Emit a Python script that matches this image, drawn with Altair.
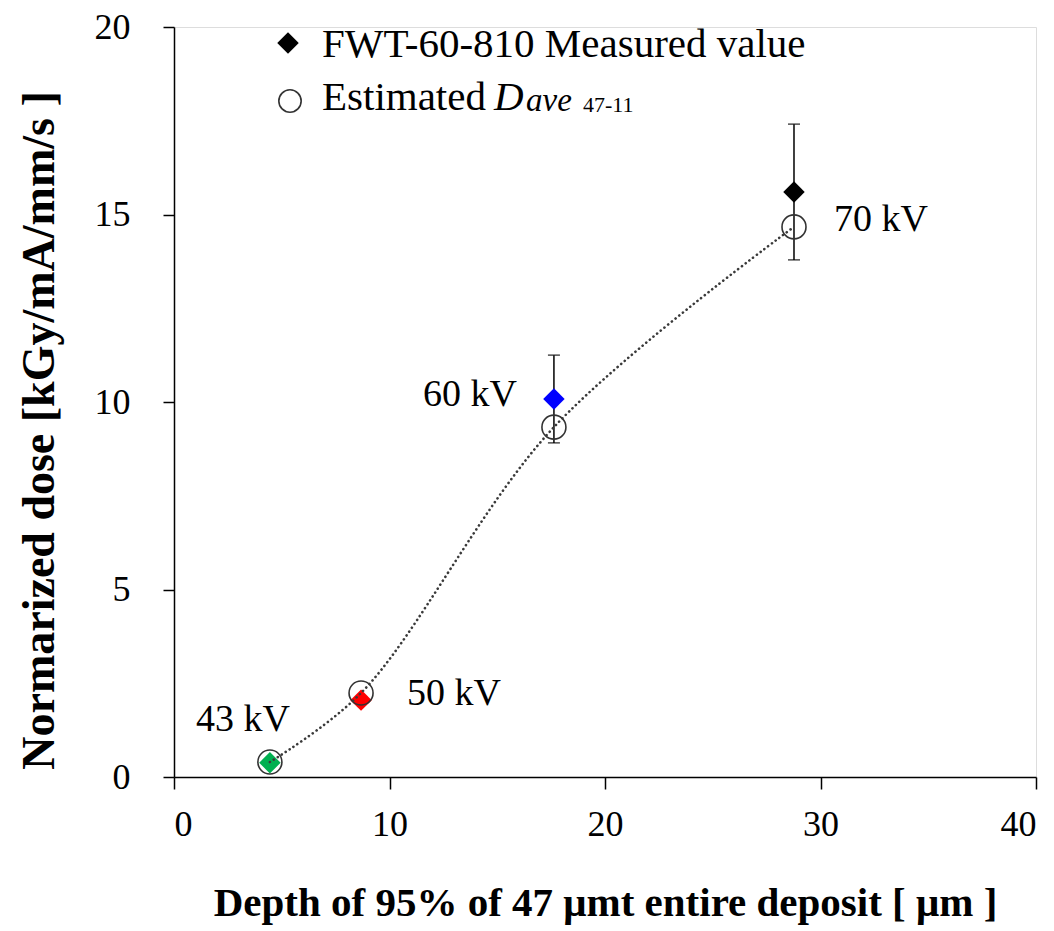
import altair as alt
import pandas as pd

# Tube voltage settings and their measured / estimated normalized doses
kv_labels = ["43 kV", "50 kV", "60 kV", "70 kV"]
depth_um = [4.45, 8.68, 17.63, 28.77]
estimated_dose = [0.40, 2.24, 9.33, 14.67]
measured_dose = [0.38, 2.05, 10.08, 15.60]
measured_err = [0.0, 0.0, 1.17, 1.81]
point_colors = ["#00B050", "#FF0000", "#0000FF", "#000000"]

x_ticks = [0, 10, 20, 30, 40]
y_ticks = [0, 5, 10, 15, 20]

df = pd.DataFrame({
    "kv": kv_labels,
    "depth": depth_um,
    "est": estimated_dose,
    "meas": measured_dose,
    "err": measured_err,
    "color": point_colors,
})
df["lo"] = df["meas"] - df["err"]
df["hi"] = df["meas"] + df["err"]

SERIF = "Liberation Serif"

x_enc = alt.X(
    "depth:Q",
    scale=alt.Scale(domain=[0, 40], nice=False, zero=False),
    axis=alt.Axis(
        values=x_ticks,
        title="Depth of 95% of 47 μmt entire deposit [ μm ]",
        titleFont=SERIF, titleFontSize=41, titleFontWeight="bold", titleColor="#000",
        titleBaseline="alphabetic", titleY=138,
        labelFont=SERIF, labelFontSize=36, labelColor="#000", labelPadding=18,
        tickSize=12, tickColor="#000", tickWidth=1.5,
        domainColor="#000", domainWidth=1.5, grid=False,
    ),
)
y_scale = alt.Scale(domain=[0, 20], nice=False, zero=False)
y_axis = alt.Axis(
    values=y_ticks,
    title="Normarized dose [kGy/mA/mm/s ]",
    titleFont=SERIF, titleFontSize=46, titleFontWeight="bold", titleColor="#000",
    titleBaseline="alphabetic", titleX=-121, titleY=403, titleAngle=-90,
    labelFont=SERIF, labelFontSize=36, labelColor="#000", labelPadding=33,
    tickSize=11, tickColor="#000", tickWidth=1.5,
    domainColor="#000", domainWidth=1.5, grid=False,
)

base = alt.Chart(df)

# Error bars on the measured values
err_df = df[df["err"] > 0]
err_base = alt.Chart(err_df)
err_rule = err_base.mark_rule(color="#000", strokeWidth=1.5).encode(
    x=x_enc, y=alt.Y("lo:Q", scale=y_scale, axis=y_axis), y2="hi:Q"
)
cap_lo = err_base.mark_tick(orient="horizontal", size=12, thickness=1.5, color="#000").encode(
    x="depth:Q", y=alt.Y("lo:Q", scale=y_scale)
)
cap_hi = err_base.mark_tick(orient="horizontal", size=12, thickness=1.5, color="#000").encode(
    x="depth:Q", y=alt.Y("hi:Q", scale=y_scale)
)

# Measured values (diamonds, colour per voltage)
meas_pts = base.mark_point(shape="diamond", filled=True, size=460, opacity=1).encode(
    x=x_enc,
    y=alt.Y("meas:Q", scale=y_scale, axis=y_axis),
    color=alt.Color("color:N", scale=None),
)

# Estimated values (open circles) and the smoothed dotted curve through them
est_pts = base.mark_point(shape="circle", filled=False, size=576, strokeWidth=1.6,
                          color="#333333", opacity=1).encode(
    x="depth:Q", y=alt.Y("est:Q", scale=y_scale)
)
est_line = base.mark_line(interpolate="catmull-rom", color="#3a3a3a", strokeWidth=2.6,
                          strokeDash=[0.1, 4.6], strokeCap="round").encode(
    x="depth:Q", y=alt.Y("est:Q", scale=y_scale)
)

# Voltage labels beside each pair of markers
label_offsets = {"43 kV": (-27, -42), "50 kV": (93, 1), "60 kV": (-84, -32), "70 kV": (87, -7)}
labels = []
for kv, (dx, dy) in label_offsets.items():
    labels.append(
        alt.Chart(df[df["kv"] == kv]).mark_text(
            font=SERIF, fontSize=38, color="#000", align="center", baseline="middle", dx=dx, dy=dy
        ).encode(x="depth:Q", y=alt.Y("est:Q", scale=y_scale), text="kv:N")
    )

# Legend drawn inside the plot area
one = pd.DataFrame({"k": [0]})
leg = alt.Chart(one)
leg_diamond = leg.mark_point(shape="diamond", filled=True, size=460, color="#000", opacity=1).encode(
    x=alt.value(114), y=alt.value(16)
)
leg_circle = leg.mark_point(shape="circle", filled=False, size=500, strokeWidth=1.6,
                            color="#333333", opacity=1).encode(x=alt.value(116), y=alt.value(74))
leg_t1 = leg.mark_text(text="FWT-60-810 Measured value", font=SERIF, fontSize=41, color="#000",
                       align="left", baseline="alphabetic").encode(x=alt.value(148), y=alt.value(30))
leg_t2 = leg.mark_text(text="Estimated", font=SERIF, fontSize=41, color="#000",
                       align="left", baseline="alphabetic").encode(x=alt.value(148), y=alt.value(83))
leg_t3 = leg.mark_text(text="D", font=SERIF, fontSize=41, fontStyle="italic", color="#000",
                       align="left", baseline="alphabetic").encode(x=alt.value(320), y=alt.value(83))
leg_t4 = leg.mark_text(text="ave", font=SERIF, fontSize=33, fontStyle="italic", color="#000",
                       align="left", baseline="alphabetic").encode(x=alt.value(352), y=alt.value(84))
leg_t5 = leg.mark_text(text="47-11", font=SERIF, fontSize=22, color="#000",
                       align="left", baseline="alphabetic").encode(x=alt.value(409), y=alt.value(85))

chart = alt.layer(
    err_rule, cap_lo, cap_hi, meas_pts, est_pts, est_line, *labels,
    leg_diamond, leg_circle, leg_t1, leg_t2, leg_t3, leg_t4, leg_t5,
).properties(
    width=862, height=750,
    autosize=alt.AutoSizeParams(type="none"),
    padding={"left": 174, "top": 27, "right": 18, "bottom": 154},
).configure_view(stroke=None).configure(background="white")

chart.save("out.html", embed_options={"renderer": "svg", "actions": False})
